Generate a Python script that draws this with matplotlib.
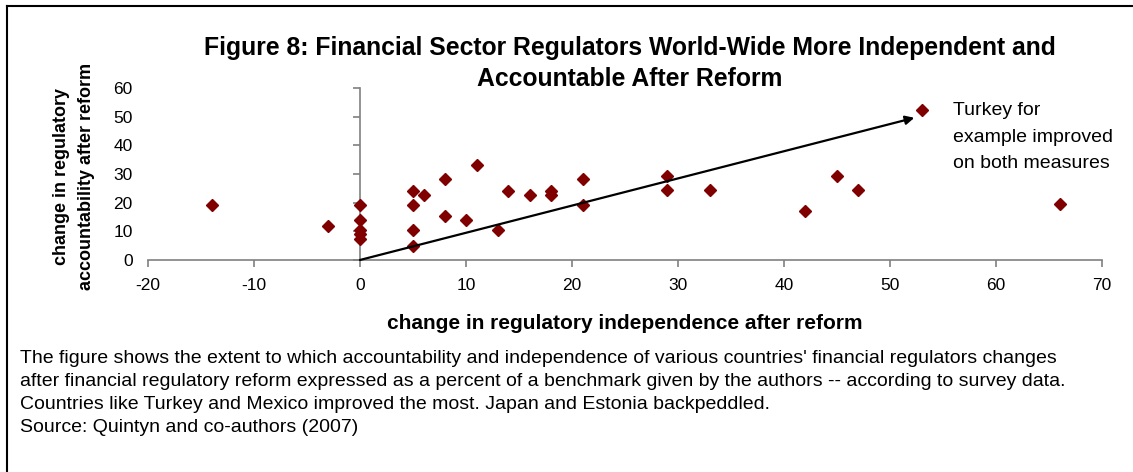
import matplotlib
matplotlib.use("Agg")
import matplotlib.pyplot as plt
from matplotlib.lines import Line2D

plt.rcParams["font.family"] = ["Liberation Sans", "DejaVu Sans"]
plt.rcParams["axes.unicode_minus"] = False

# change in independence (x) vs change in accountability (y)
independence = [-14, -3, 0, 0, 0, 0, 0, 5, 5, 5, 5, 6, 8, 8, 10, 11, 13, 14, 16,
                18, 18, 21, 21, 29, 29, 33, 42, 45, 47, 53, 66]
accountability = [19.2, 12.0, 19.2, 14.0, 10.3, 9.1, 7.2, 24.1, 19.2, 10.3, 5.0,
                  22.7, 28.2, 15.2, 14.0, 33.0, 10.3, 24.1, 22.7, 24.1, 22.7, 28.2,
                  19.2, 29.4, 24.3, 24.3, 17.2, 29.2, 24.3, 52.4, 19.4]
arrow_start = (0, 0)
arrow_end = (52.3, 49.6)

xticks = [-20, -10, 0, 10, 20, 30, 40, 50, 60, 70]
yticks = [0, 10, 20, 30, 40, 50, 60]

title = "Figure 8: Financial Sector Regulators World-Wide More Independent and\nAccountable After Reform"
caption = ("The figure shows the extent to which accountability and independence of various countries' financial regulators changes\n"
           "after financial regulatory reform expressed as a percent of a benchmark given by the authors -- according to survey data.\n"
           "Countries like Turkey and Mexico improved the most. Japan and Estonia backpeddled.\n"
           "Source: Quintyn and co-authors (2007)")
note = "Turkey for\nexample improved\non both measures"

fig = plt.figure(figsize=(11.33, 4.72), dpi=100)
ax = fig.add_axes([0.1306, 0.4492, 0.842, 0.3644])

ax.plot(independence, accountability, linestyle="none", marker="D",
        markersize=6.6, color="#800000", zorder=3)

ax.annotate("", xy=arrow_end, xytext=arrow_start,
            arrowprops=dict(arrowstyle="-|>", color="black", lw=1.6,
                            mutation_scale=13, shrinkA=0, shrinkB=0))

ax.set_xlim(-20, 70)
ax.set_ylim(0, 60)
ax.set_xticks(xticks)
ax.set_yticks(yticks)

for side in ["top", "right", "left"]:
    ax.spines[side].set_visible(False)
ax.spines["bottom"].set_color("#808080")
ax.spines["bottom"].set_linewidth(1.2)

ax.tick_params(axis="x", direction="out", length=5, width=1.2, color="#808080",
               pad=8, labelsize=12.5)
ax.tick_params(axis="y", length=0, pad=11, labelsize=12.5)

# vertical axis line crossing at x = 0
sec = ax.secondary_yaxis(0, transform=ax.transData)
sec.set_yticks(yticks)
sec.set_yticklabels([])
sec.spines["left"].set_color("#808080")
sec.spines["left"].set_linewidth(1.2)
sec.tick_params(direction="out", length=5, width=1.2, color="#808080")

fig.text(0.5516, 0.315, "change in regulatory independence after reform",
         ha="center", va="center", fontsize=15, fontweight="bold")
fig.text(0.556, 0.866, title, ha="center", va="center", fontsize=17.8,
         fontweight="bold", linespacing=1.38)
fig.text(0.0655, 0.627, "change in regulatory\naccountability after reform",
         rotation=90, ha="center", va="center", fontsize=13, fontweight="bold",
         multialignment="center", linespacing=1.6)
fig.text(0.841, 0.783, note, ha="left", va="top", fontsize=14, linespacing=1.72)
fig.text(0.0177, 0.259, caption, ha="left", va="top", fontsize=14, linespacing=1.47)

# frame around the figure (top and left edges visible)
fig.add_artist(Line2D([0.0062, 1.0], [0.987, 0.987], transform=fig.transFigure,
                      color="black", lw=1.5))
fig.add_artist(Line2D([0.0062, 0.0062], [0.0, 0.987], transform=fig.transFigure,
                      color="black", lw=1.5))

fig.savefig("out.png", dpi=100)
